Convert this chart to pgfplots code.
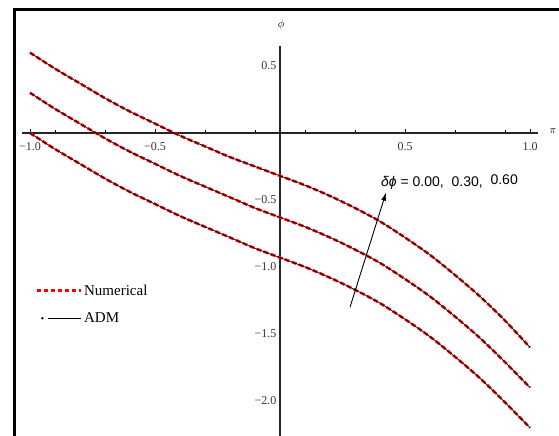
\documentclass[border=0pt]{standalone}
\usepackage{fontspec}
\setmainfont{Liberation Serif}
\newfontfamily\sansf{Liberation Sans}
\usepackage{pgfplots}
\pgfplotsset{compat=1.18}
\usepackage{pgfplotstable}
\usetikzlibrary{arrows.meta}

\pgfplotstableread{
x     top    mid    bot
-1.0  0.60   0.30   0.00
-0.9  0.48   0.18  -0.12
-0.8  0.37   0.07  -0.23
-0.7  0.26  -0.04  -0.34
-0.6  0.16  -0.14  -0.44
-0.5  0.07  -0.23  -0.53
-0.4 -0.02  -0.32  -0.62
-0.3 -0.10  -0.40  -0.70
-0.2 -0.18  -0.48  -0.78
-0.1 -0.25  -0.56  -0.86
 0.0 -0.32  -0.63  -0.93
 0.1 -0.39  -0.70  -1.00
 0.2 -0.47  -0.78  -1.08
 0.3 -0.56  -0.87  -1.17
 0.4 -0.66  -0.97  -1.27
 0.5 -0.78  -1.09  -1.39
 0.6 -0.91  -1.22  -1.52
 0.7 -1.06  -1.37  -1.67
 0.8 -1.22  -1.53  -1.83
 0.9 -1.40  -1.71  -2.01
 1.0 -1.60  -1.90  -2.20
}\data

\begin{document}
\begin{tikzpicture}
\begin{axis}[
  x=250bp, y=134bp,
  xmin=-1.032, xmax=1.032, ymin=-2.35, ymax=0.652,
  axis lines=middle,
  axis line style={-, line width=1.1bp, black!85},
  clip=false,
  xtick={-1,-0.5,0.5,1}, xticklabels={−1.0,−0.5,0.5,1.0},
  minor xtick={-0.9,-0.7,-0.3,-0.1,0.1,0.3,0.7,0.9},
  ytick={-2,-1.5,-1,-0.5,0.5}, yticklabels={−2.0,−1.5,−1.0,−0.5,0.5},
  tick align=inside,
  major tick length=4bp, minor tick length=3bp,
  xtick style={black, line width=0.8bp},
  ytick style={draw=none},
  ticklabel style={font=\fontsize{12bp}{14bp}\selectfont, text=black!80},
  xticklabel style={yshift=-6bp},
  legend image code/.code={\draw[#1] (0bp,0bp) -- (44bp,0bp);},
  legend style={draw=none, fill=none, at={(rel axis cs:0.027,0.410)}, anchor=north west,
    font=\fontsize{15bp}{17bp}\selectfont, row sep=13bp, inner sep=0pt,
    nodes={inner sep=1.5bp}},
  legend cell align=left,
]
\addlegendimage{red, line width=2.5bp, dash pattern=on 4bp off 3bp}
\addlegendentry{Numerical}
\addlegendimage{legend image code/.code={\draw[black, line width=0.8bp] (11bp,0bp)--(44bp,0bp); \fill[black] (5bp,0bp) circle (0.9bp);}}
\addlegendentry{ADM}

\addplot[red, line width=2.6bp, dash pattern=on 5bp off 2.5bp, smooth, forget plot] table[x=x,y=top]{\data};
\addplot[red, line width=2.6bp, dash pattern=on 5bp off 2.5bp, smooth, forget plot] table[x=x,y=mid]{\data};
\addplot[red, line width=2.6bp, dash pattern=on 5bp off 2.5bp, smooth, forget plot] table[x=x,y=bot]{\data};
\addplot[black, line width=0.7bp, smooth, forget plot] table[x=x,y=top]{\data};
\addplot[black, line width=0.7bp, smooth, forget plot] table[x=x,y=mid]{\data};
\addplot[black, line width=0.7bp, smooth, forget plot] table[x=x,y=bot]{\data};

\node[font=\fontsize{11bp}{13bp}\selectfont] at (axis cs:0.004,0.806) {$\phi$};
\node[font=\fontsize{11bp}{13bp}\selectfont] at (axis cs:1.092,0.015) {$\pi$};
\node[anchor=west, font=\sansf\fontsize{14bp}{16bp}\selectfont, inner sep=0pt] at (axis cs:0.404,-0.366)
  {{\itshape δϕ} = 0.00,\; 0.30,\; \raisebox{2bp}{0.60}};
\draw[-{Latex[length=8bp,width=5bp]}, line width=0.9bp] (axis cs:0.28,-1.30) -- (axis cs:0.424,-0.445);

\coordinate (bbTL) at (axis cs:-1.12,0.99254);
\coordinate (bbBR) at (axis cs:1.116,-2.26119);
\coordinate (frTL) at (axis cs:-1.0608,0.9179);
\coordinate (frBR) at (axis cs:1.4,-2.7);
\end{axis}
\draw[line width=3bp] (frTL) rectangle (frBR);
\pgfresetboundingbox
\useasboundingbox (bbTL) rectangle (bbBR);
\end{tikzpicture}
\end{document}
